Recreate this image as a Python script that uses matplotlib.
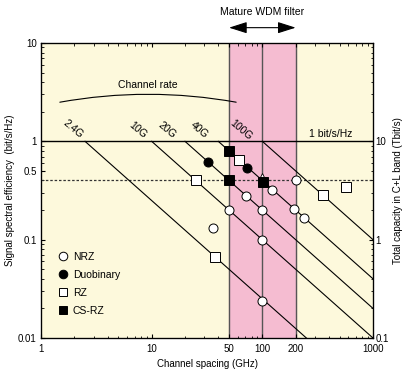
import numpy as np
import matplotlib
matplotlib.use("Agg")
import matplotlib.pyplot as plt
from matplotlib.ticker import NullFormatter, LogLocator

plt.rcParams['font.family'] = ['Liberation Sans', 'DejaVu Sans']

# datos
rates = [2.5, 10, 20, 40, 100]
rate_labels = ["2.4G", "10G", "20G", "40G", "100G"]
label_x = [1.95, 7.5, 13.6, 27, 64]
label_y = [1.33, 1.30, 1.30, 1.30, 1.30]

nrz_x = [36, 50, 71, 100, 100, 100, 123, 195, 200, 240]
nrz_y = [0.13, 0.2, 0.275, 0.2, 0.1, 0.024, 0.32, 0.205, 0.4, 0.165]
duo_x = [32, 73]
duo_y = [0.61, 0.54]
rz_x = [25, 37, 62, 350, 570]
rz_y = [0.4, 0.066, 0.645, 0.285, 0.34]
csrz_x = [50, 50, 102]
csrz_y = [0.8, 0.4, 0.39]
tri_x = [100]
tri_y = [0.44]

filter_band = [50, 200]
filter_mid = 100

fs = 7.5

fig = plt.figure(figsize=(4.04, 3.71), dpi=100)
ax = fig.add_axes([0.1015, 0.0889, 0.8218, 0.7952])
ax.set_xscale("log")
ax.set_yscale("log")
ax.set_xlim(1, 1000)
ax.set_ylim(0.01, 10)
ax.set_facecolor("#fdf9dc")

# banda del filtro
ax.axvspan(filter_band[0], filter_band[1], color="#f5bcd1", zorder=0)
for xv in [filter_band[0], filter_mid, filter_band[1]]:
    ax.axvline(xv, color="#555555", lw=1.0, zorder=1)

ax.axhline(1, color="black", lw=1.0, zorder=2)
ax.axhline(0.4, color="#333333", lw=0.9, ls=(0, (2, 1.5)), zorder=2)

# lineas de tasa de canal
for r in rates:
    xs = np.array([r, r * 100])
    ax.plot(xs, r / xs, color="black", lw=0.8, zorder=2)

for lab, lx, ly in zip(rate_labels, label_x, label_y):
    ax.text(lx, ly, lab, rotation=-40, ha="center", va="center", fontsize=fs)

ax.text(416, 1.19, "1 bit/s/Hz", ha="center", va="center", fontsize=fs)

mk = dict(ls="none", ms=6.5, mec="black", mew=0.7, zorder=4)
ax.plot(tri_x, tri_y, marker="^", mfc="white", ls="none", ms=4.5, mec="black", mew=0.6, zorder=3)
ax.plot(nrz_x, nrz_y, marker="o", mfc="white", label="NRZ", **mk)
ax.plot(duo_x, duo_y, marker="o", mfc="black", label="Duobinary", **mk)
ax.plot(rz_x, rz_y, marker="s", mfc="white", label="RZ", **mk)
ax.plot(csrz_x, csrz_y, marker="s", mfc="black", label="CS-RZ", **mk)

leg = ax.legend(loc="upper left", bbox_to_anchor=(0.022, 0.325), frameon=False,
                fontsize=fs, handlelength=1.0, handletextpad=0.45,
                labelspacing=0.78, markerscale=0.95)

# arco "Channel rate"
ax.annotate("", xy=(58, 2.5), xytext=(1.48, 2.5),
            arrowprops=dict(arrowstyle="-", lw=0.8, color="black",
                            connectionstyle="arc3,rad=-0.09",
                            shrinkA=0, shrinkB=0))
ax.text(9.2, 3.74, "Channel rate", ha="center", va="center", fontsize=fs)

# flecha del filtro
trans = ax.get_xaxis_transform()
ax.annotate("", xy=(filter_band[1], 1.052), xytext=(filter_band[0], 1.052),
            xycoords=trans, textcoords=trans, annotation_clip=False,
            arrowprops=dict(arrowstyle="<|-|>,head_length=1.1,head_width=0.35",
                            lw=0.8, color="black", shrinkA=0, shrinkB=0))
ax.text(filter_mid, 1.105, "Mature WDM filter", transform=trans,
        ha="center", va="center", fontsize=fs)

# ejes
ax.set_xticks([1, 10, 50, 100, 200, 1000])
ax.set_xticklabels(["1", "10", "50", "100", "200", "1000"])
ax.xaxis.set_minor_locator(LogLocator(base=10, subs=np.arange(2, 10)))
ax.xaxis.set_minor_formatter(NullFormatter())
ax.set_yticks([0.01, 0.1, 0.5, 1, 10])
ax.set_yticklabels(["0.01", "0.1", "0.5", "1", "10"])
ax.yaxis.set_minor_locator(LogLocator(base=10, subs=np.arange(2, 10)))
ax.yaxis.set_minor_formatter(NullFormatter())
ax.tick_params(which="both", direction="in", top=True, labelsize=7)
ax.tick_params(axis="x", pad=4.5)
ax.tick_params(axis="y", pad=3)
ax.tick_params(which="major", length=3, width=0.8)
ax.tick_params(which="minor", length=1.8, width=0.6)
for s in ax.spines.values():
    s.set_linewidth(0.9)

ax.set_xlabel("Channel spacing (GHz)", fontsize=7, labelpad=3.5)
ax.set_ylabel("Signal spectral efficiency  (bit/s/Hz)", fontsize=7, labelpad=2)

ax2 = ax.twinx()
ax2.set_yscale("log")
ax2.set_ylim(0.1, 100)
ax2.set_yticks([0.1, 1, 10])
ax2.set_yticklabels(["0.1", "1", "10"])
ax2.yaxis.set_minor_locator(LogLocator(base=10, subs=np.arange(2, 10)))
ax2.yaxis.set_minor_formatter(NullFormatter())
ax2.tick_params(which="both", direction="in", labelsize=7, pad=2)
ax2.tick_params(which="major", length=3, width=0.8)
ax2.tick_params(which="minor", length=1.8, width=0.6)
ax2.set_ylabel("Total capacity in C+L band (Tbit/s)", fontsize=7, labelpad=3)

fig.savefig("out.png", dpi=100)
